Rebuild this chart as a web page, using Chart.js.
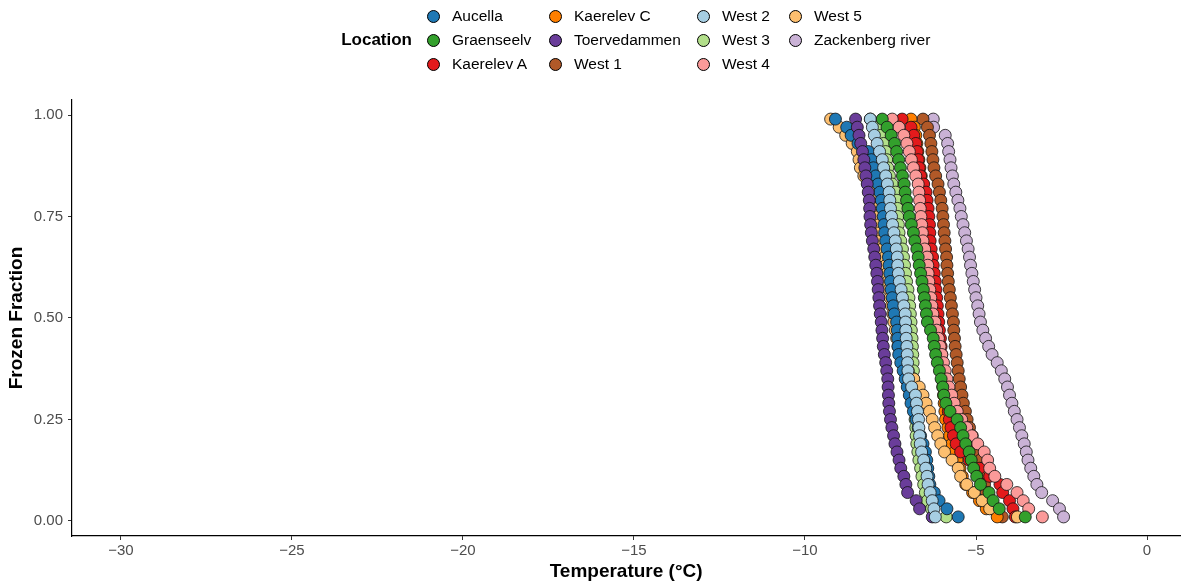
<!DOCTYPE html>
<html><head><meta charset="utf-8">
<script src="https://cdn.jsdelivr.net/npm/chart.js@4.4.1/dist/chart.umd.min.js"></script>
<style>
html,body{margin:0;padding:0;background:#fff;}
#wrap{position:relative;width:1187px;height:588px;font-family:"Liberation Sans",Arial,sans-serif;}
#c{position:absolute;left:0;top:0;}
.lt{position:absolute;font-weight:bold;font-size:17px;line-height:20px;color:#000;}
.sw{position:absolute;width:11px;height:11px;border:1px solid #000;border-radius:50%;box-sizing:content-box;}
.lb{position:absolute;font-size:15.5px;line-height:18px;color:#000;white-space:nowrap;}
</style></head>
<body><div id="wrap"><canvas id="c" width="1187" height="588"></canvas><div id="legend"></div></div>
<script>
// Frozen fraction levels (shared by all locations)
const fraction = [
  0.99,0.97,0.95,0.93,0.91,0.89,0.87,0.85,0.83,0.81,
  0.79,0.77,0.75,0.73,0.71,0.69,0.67,0.65,0.63,0.61,
  0.59,0.57,0.55,0.53,0.51,0.49,0.47,0.45,0.43,0.41,
  0.39,0.37,0.35,0.33,0.31,0.29,0.27,0.25,0.23,0.21,
  0.19,0.17,0.15,0.13,0.11,0.09,0.07,0.05,0.03,0.01];

const locations = ['Aucella','Graenseelv','Kaerelev A','Kaerelev C','Toervedammen','West 1','West 2','West 3','West 4','West 5','Zackenberg river'];
const colors = ['#1F78B4','#33A02C','#E31A1C','#FF7F00','#6A3D9A','#B15928','#A6CEE3','#B2DF8A','#FB9A99','#FDBF6F','#CAB2D6'];
// drawing order, top-most first
const drawOrder = ['Graenseelv','West 2','West 4','Toervedammen','Aucella','West 5','West 3','Kaerelev A','Kaerelev C','West 1','Zackenberg river'];

// Temperatures (°C) at each frozen-fraction level
const tAucella = [
  -9.11,-8.78,-8.65,-8.45,-8.15,-8.06,-8.00,-7.93,-7.86,-7.81,
  -7.77,-7.74,-7.71,-7.69,-7.67,-7.64,-7.60,-7.56,-7.54,-7.52,
  -7.50,-7.48,-7.45,-7.42,-7.39,-7.32,-7.30,-7.29,-7.28,-7.26,
  -7.20,-7.13,-7.07,-7.01,-6.95,-6.90,-6.83,-6.75,-6.69,-6.62,
  -6.55,-6.48,-6.44,-6.41,-6.38,-6.35,-6.22,-6.08,-5.85,-5.52];
const tGraenseelv = [
  -7.74,-7.60,-7.48,-7.38,-7.32,-7.26,-7.21,-7.15,-7.10,-7.07,
  -7.03,-6.99,-6.95,-6.89,-6.83,-6.79,-6.73,-6.69,-6.66,-6.62,
  -6.58,-6.54,-6.51,-6.48,-6.45,-6.42,-6.33,-6.25,-6.22,-6.18,
  -6.13,-6.07,-6.02,-5.97,-5.94,-5.88,-5.76,-5.55,-5.45,-5.38,
  -5.30,-5.20,-5.14,-5.07,-4.98,-4.87,-4.62,-4.50,-4.32,-3.56];
const tKaerelevA = [
  -7.16,-6.90,-6.82,-6.76,-6.72,-6.69,-6.66,-6.62,-6.53,-6.46,
  -6.43,-6.40,-6.38,-6.36,-6.35,-6.34,-6.31,-6.27,-6.25,-6.22,
  -6.19,-6.17,-6.15,-6.13,-6.11,-6.09,-6.07,-6.04,-6.02,-6.00,
  -5.98,-5.96,-5.93,-5.90,-5.87,-5.84,-5.81,-5.78,-5.73,-5.66,
  -5.58,-5.45,-5.20,-4.90,-4.60,-4.30,-4.22,-4.02,-3.92,-3.85];
const tKaerelevC = [
  -6.90,-6.80,-6.76,-6.73,-6.70,-6.67,-6.64,-6.60,-6.55,-6.50,
  -6.47,-6.44,-6.42,-6.40,-6.38,-6.36,-6.34,-6.31,-6.29,-6.26,
  -6.23,-6.21,-6.19,-6.17,-6.15,-6.13,-6.11,-6.09,-6.07,-6.05,
  -6.03,-6.01,-5.99,-5.97,-5.95,-5.93,-5.91,-5.89,-5.82,-5.77,
  -5.70,-5.62,-5.55,-5.47,-5.40,-5.30,-5.10,-4.90,-4.70,-4.38];
const tToervedammen = [
  -8.52,-8.47,-8.42,-8.37,-8.32,-8.28,-8.25,-8.22,-8.18,-8.15,
  -8.12,-8.11,-8.10,-8.08,-8.06,-8.03,-7.99,-7.96,-7.93,-7.90,
  -7.88,-7.86,-7.84,-7.82,-7.80,-7.77,-7.75,-7.73,-7.71,-7.68,
  -7.64,-7.61,-7.58,-7.57,-7.56,-7.55,-7.53,-7.50,-7.46,-7.41,
  -7.37,-7.31,-7.25,-7.20,-7.11,-7.05,-7.00,-6.75,-6.65,-6.28];
const tWest1 = [
  -6.55,-6.42,-6.36,-6.32,-6.29,-6.26,-6.23,-6.18,-6.11,-6.07,
  -6.03,-5.99,-5.97,-5.95,-5.93,-5.91,-5.89,-5.86,-5.85,-5.83,
  -5.81,-5.78,-5.75,-5.72,-5.69,-5.66,-5.65,-5.63,-5.61,-5.58,
  -5.55,-5.52,-5.49,-5.45,-5.41,-5.37,-5.31,-5.26,-5.19,-5.11,
  -5.03,-4.95,-4.87,-4.82,-4.78,-4.75,-4.70,-4.65,-4.52,-4.23];
const tWest2 = [
  -8.09,-8.03,-7.97,-7.89,-7.82,-7.74,-7.70,-7.64,-7.59,-7.54,
  -7.52,-7.50,-7.47,-7.44,-7.40,-7.36,-7.33,-7.30,-7.29,-7.27,
  -7.24,-7.19,-7.15,-7.11,-7.07,-7.06,-7.05,-7.04,-7.02,-7.01,
  -7.00,-6.99,-6.97,-6.88,-6.77,-6.74,-6.71,-6.68,-6.67,-6.65,
  -6.63,-6.59,-6.53,-6.47,-6.43,-6.40,-6.34,-6.28,-6.23,-6.19];
const tWest3 = [
  -8.09,-7.90,-7.78,-7.70,-7.64,-7.61,-7.58,-7.53,-7.45,-7.35,
  -7.31,-7.30,-7.29,-7.27,-7.25,-7.20,-7.15,-7.12,-7.09,-7.06,
  -7.03,-6.99,-6.96,-6.94,-6.92,-6.90,-6.89,-6.87,-6.86,-6.85,
  -6.84,-6.83,-6.83,-6.82,-6.82,-6.81,-6.80,-6.78,-6.76,-6.75,
  -6.73,-6.70,-6.67,-6.62,-6.58,-6.53,-6.48,-6.42,-6.30,-5.87];
const tWest4 = [
  -7.45,-7.25,-7.11,-7.02,-6.95,-6.89,-6.83,-6.76,-6.69,-6.67,
  -6.65,-6.63,-6.61,-6.59,-6.57,-6.55,-6.50,-6.43,-6.41,-6.40,
  -6.38,-6.35,-6.32,-6.29,-6.26,-6.20,-6.15,-6.10,-6.05,-6.00,
  -5.95,-5.90,-5.85,-5.79,-5.71,-5.64,-5.55,-5.42,-5.27,-5.12,
  -4.95,-4.76,-4.66,-4.60,-4.45,-4.10,-3.80,-3.62,-3.46,-3.06];
const tWest5 = [
  -9.25,-9.00,-8.81,-8.62,-8.47,-8.42,-8.38,-8.28,-8.16,-8.05,
  -7.95,-7.90,-7.86,-7.83,-7.81,-7.79,-7.74,-7.67,-7.63,-7.60,
  -7.57,-7.54,-7.51,-7.47,-7.43,-7.40,-7.36,-7.32,-7.28,-7.23,
  -7.15,-6.98,-6.82,-6.66,-6.55,-6.46,-6.36,-6.28,-6.21,-6.12,
  -6.03,-5.92,-5.70,-5.52,-5.45,-5.27,-5.05,-4.82,-4.60,-3.79];
const tZackenberg = [
  -6.25,-6.24,-5.90,-5.83,-5.80,-5.76,-5.73,-5.69,-5.65,-5.59,
  -5.53,-5.47,-5.43,-5.38,-5.33,-5.28,-5.23,-5.19,-5.16,-5.12,
  -5.08,-5.04,-5.00,-4.95,-4.91,-4.87,-4.80,-4.72,-4.63,-4.53,
  -4.38,-4.26,-4.16,-4.08,-4.02,-3.95,-3.88,-3.80,-3.73,-3.66,
  -3.59,-3.53,-3.48,-3.40,-3.31,-3.22,-3.08,-2.76,-2.56,-2.44];

const xTicks = [-30,-25,-20,-15,-10,-5,0];
const xTickLabels = ['\u221230','\u221225','\u221220','\u221215','\u221210','\u22125','0'];
const yTicks = [0,0.25,0.5,0.75,1];
const yTickLabels = ['0.00','0.25','0.50','0.75','1.00'];

const temps = [tAucella,tGraenseelv,tKaerelevA,tKaerelevC,tToervedammen,tWest1,tWest2,tWest3,tWest4,tWest5,tZackenberg];

const FONT = '"Liberation Sans", Arial, sans-serif';

const datasets = locations.map((name,i)=>({
  label: name,
  data: fraction.map((f,j)=>({x: temps[i][j], y: f})),
  backgroundColor: colors[i],
  borderColor: '#111',
  borderWidth: 0.8,
  pointRadius: 6,
  pointHoverRadius: 6,
  showLine: false,
  order: drawOrder.indexOf(name)
}));

new Chart(document.getElementById('c'), {
  type: 'scatter',
  data: { datasets },
  options: {
    responsive: false,
    animation: false,
    events: [],
    layout: { padding: { top: 100, right: 2, bottom: 0, left: 0 } },
    plugins: { legend: { display: false }, tooltip: { enabled: false } },
    scales: {
      x: {
        type: 'linear', min: -31.43, max: 0.97,
        afterBuildTicks: s => { s.ticks = xTicks.map(v => ({ value: v })); },
        afterFit: s => { s.height = 52; },
        ticks: {
          autoSkip: false, maxRotation: 0, padding: 2,
          color: '#4D4D4D', font: { family: FONT, size: 15 },
          callback: v => xTickLabels[xTicks.indexOf(v)]
        },
        grid: { drawOnChartArea: false, drawTicks: true, tickLength: 4, color: '#333', lineWidth: 1 },
        border: { display: true, color: '#000', width: 1.2 },
        title: { display: true, text: 'Temperature (\u00B0C)', color: '#000',
          font: { family: FONT, size: 19, weight: 'bold' }, padding: { top: 0, bottom: 5 } }
      },
      y: {
        type: 'linear', min: -0.037, max: 1.037,
        afterBuildTicks: s => { s.ticks = yTicks.map(v => ({ value: v })); },
        afterFit: s => { s.width = 72; },
        ticks: {
          autoSkip: false, padding: 5,
          color: '#4D4D4D', font: { family: FONT, size: 15 },
          callback: v => yTickLabels[yTicks.indexOf(v)]
        },
        grid: { drawOnChartArea: false, drawTicks: true, tickLength: 4, color: '#333', lineWidth: 1 },
        border: { display: true, color: '#000', width: 1.2 },
        title: { display: true, text: 'Frozen Fraction', color: '#000',
          font: { family: FONT, size: 19, weight: 'bold' }, padding: { top: 5, bottom: 0 } }
      }
    }
  }
});

// Legend (column-major, 3 rows)
const lg = document.getElementById('legend');
const colX = [433, 555, 703, 795];
const rowY = [16, 40, 64];
const title = document.createElement('div');
title.className = 'lt'; title.textContent = 'Location';
title.style.right = (1187 - 412) + 'px'; title.style.top = (40 - 10) + 'px';
lg.appendChild(title);
locations.forEach((name, i) => {
  const col = Math.floor(i / 3), row = i % 3;
  const sw = document.createElement('div');
  sw.className = 'sw';
  sw.style.background = colors[i];
  sw.style.left = (colX[col] - 6.5) + 'px';
  sw.style.top = (rowY[row] - 6.5) + 'px';
  lg.appendChild(sw);
  const lb = document.createElement('div');
  lb.className = 'lb'; lb.textContent = name;
  lb.style.left = (colX[col] + 19) + 'px';
  lb.style.top = (rowY[row] - 9) + 'px';
  lg.appendChild(lb);
});
</script>
</body></html>
